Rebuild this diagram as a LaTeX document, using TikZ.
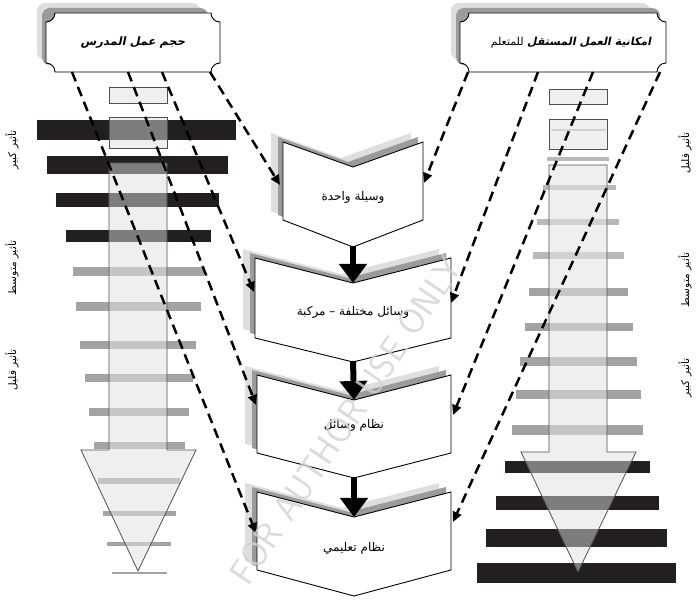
\documentclass[tikz,border=0pt]{standalone}
\usepackage{fontspec}
\usetikzlibrary{arrows.meta}
\TeXXeTstate=1
\newfontfamily\arabicfont[Script=Arabic]{DejaVu Sans}
\newfontfamily\arabicsl[Script=Arabic,FakeSlant=0.2]{DejaVu Sans}
\definecolor{barblack}{HTML}{231F20}
\definecolor{bargray}{HTML}{A3A3A6}
\definecolor{bargraylt}{HTML}{B9B9BB}
\definecolor{shaftfill}{HTML}{EEF0EF}
\definecolor{shaftline}{HTML}{505050}
\definecolor{shdark}{HTML}{9B9B9B}
\definecolor{shlight}{HTML}{DEDEDE}
\definecolor{wmark}{HTML}{D2D2D2}
\newcommand{\chevshape}[7]{%
  \path[#1] (#2,#4) -- ({(#2+#3)/2},#5) -- (#3,#4) -- (#3,#6) -- ({(#2+#3)/2},#7) -- (#2,#6) -- cycle;}
\newcommand{\chevbox}[6]{%
  \chevshape{fill=shlight,shift={(-12,-9)}}{#1}{#2}{#3}{#4}{#5}{#6}
  \chevshape{fill=shdark,shift={(-5,-5)}}{#1}{#2}{#3}{#4}{#5}{#6}
  \chevshape{fill=white,draw=black,line width=0.9}{#1}{#2}{#3}{#4}{#5}{#6}}
\newcommand{\concbox}[5]{%
  \path[#1] ({#2+9},#3) -- ({#4-9},#3)
    .. controls ({#4-9},{#3+5}) and ({#4-5},{#3+9}) .. (#4,{#3+9})
    -- (#4,{#5-9})
    .. controls ({#4-5},{#5-9}) and ({#4-9},{#5-5}) .. ({#4-9},#5)
    -- ({#2+9},#5)
    .. controls ({#2+9},{#5-5}) and ({#2+5},{#5-9}) .. (#2,{#5-9})
    -- (#2,{#3+9})
    .. controls ({#2+5},{#3+9}) and ({#2+9},{#3+5}) .. ({#2+9},#3) -- cycle;}
\newcommand{\band}[5]{\fill[#5] (#1,{#3-#4/2}) rectangle (#2,{#3+#4/2});}
\begin{document}
\begin{tikzpicture}[x=1pt,y=-1pt,
  dasharrow/.style={line width=2.5, dash pattern=on 10pt off 6pt, -{Triangle[length=10pt,width=9pt]}},
  flowarrow/.style={line width=6, -{Triangle[length=19pt,width=27pt]}},
  boxtext/.style={font=\arabicfont\fontsize{12}{14}\selectfont, inner sep=0},
  titletext/.style={font=\arabicsl\bfseries\fontsize{11.5}{13}\selectfont, inner sep=0},
  sidelabel/.style={font=\arabicfont\fontsize{10.5}{12}\selectfont, rotate=90, inner sep=0},
  shaftbase/.style={fill=shaftfill},
  shafttop/.style={fill=shaftfill, fill opacity=0.45, draw=shaftline, line width=0.8},
]
\useasboundingbox (0,0) rectangle (697,601);
% ---------- left column ----------
\fill[shaftbase] (109,87) rectangle (167,103);
\fill[shaftbase] (109,117) rectangle (167,148);
\fill[shaftbase] (109,163) -- (167,163) -- (167,450) -- (196,450) -- (138,571) -- (81,450) -- (109,450) -- cycle;
\band{37}{236}{130}{20}{barblack}
\band{47}{228}{165}{18}{barblack}
\band{56}{219}{200}{14}{barblack}
\band{66}{211}{236}{12}{barblack}
\band{73}{204}{272}{9}{bargray}
\band{76}{201}{307}{9}{bargray}
\band{80}{196}{345}{8}{bargray}
\band{85}{193}{378}{8}{bargray}
\band{89}{189}{412}{8}{bargray}
\band{94}{185}{446}{7}{bargray}
\band{98}{180}{481}{6}{bargray}
\band{103}{176}{514}{5}{bargray}
\band{107}{171}{544}{4}{bargray}
\band{112}{167}{573}{2}{bargray}
\draw[shafttop] (109,87) rectangle (167,103);
\draw[shafttop] (109,117) rectangle (167,148);
\draw[shafttop] (109,163) -- (167,163) -- (167,450) -- (196,450) -- (138,571) -- (81,450) -- (109,450) -- cycle;
% ---------- right column ----------
\fill[shaftbase] (549,89) rectangle (607,104);
\fill[shaftbase] (549,119) rectangle (607,149);
\fill[shaftbase] (549,165) -- (607,165) -- (607,452) -- (636,452) -- (578,572) -- (521,452) -- (549,452) -- cycle;
\band{551}{606}{130}{2}{bargraylt}
\band{547}{609}{159}{4}{bargraylt}
\band{543}{616}{188}{5}{bargraylt}
\band{537}{619}{222}{6}{bargraylt}
\band{533}{624}{256}{7}{bargraylt}
\band{529}{628}{292}{8}{bargray}
\band{525}{633}{327}{8}{bargray}
\band{520}{637}{362}{9}{bargray}
\band{516}{641}{395}{9}{bargray}
\band{512}{643}{430}{10}{bargray}
\band{505}{650}{467}{12}{barblack}
\band{496}{659}{503}{14}{barblack}
\band{486}{667}{538}{18}{barblack}
\band{477}{676}{573}{20}{barblack}
\draw[shafttop] (549,89) rectangle (607,104);
\draw[shafttop] (549,119) rectangle (607,149);
\draw[shafttop] (549,165) -- (607,165) -- (607,452) -- (636,452) -- (578,572) -- (521,452) -- (549,452) -- cycle;
% ---------- top boxes ----------
\fill[shlight, rounded corners=8] (37,3) rectangle (200,60);
\fill[shdark, rounded corners=8] (42,8) rectangle (208,65);
\concbox{fill=white,draw=black,line width=0.9}{46}{13}{220}{72}
\node[titletext] (tleft) at (133,43) {\beginR حجم عمل المدرس\endR};
\fill[shlight, rounded corners=8] (451,3) rectangle (650,60);
\fill[shdark, rounded corners=8] (456,8) rectangle (660,65);
\concbox{fill=white,draw=black,line width=0.9}{460}{13}{666}{72}
\node[inner sep=0, font=\arabicfont\fontsize{11}{13}\selectfont] (tright) at (571,43) {\beginR{\arabicsl\bfseries امكانية العمل المستقل} للمتعلم\endR};
% ---------- central boxes ----------
\chevbox{283}{423}{142}{167}{220}{247}
\chevbox{255}{451}{258}{283}{338}{362}
\chevbox{257}{451}{375}{400}{453}{478}
\chevbox{257}{451}{492}{517}{570}{596}
\node[boxtext] (b1) at (353,197) {\beginR وسيلة واحدة\endR};
\node[boxtext] (b2) at (353,312) {\beginR وسائل مختلفة – مركبة\endR};
\node[boxtext] (b3) at (354,425) {\beginR نظام وسائل\endR};
\node[boxtext] (b4) at (354,548) {\beginR نظام تعليمي\endR};
\coordinate (b1tip) at (353,246);
\coordinate (b2top) at (353,283);
\coordinate (b2tip) at (353,361);
\coordinate (b3top) at (354,400);
\coordinate (b3tip) at (354,477);
\coordinate (b4top) at (354,517);
\draw[flowarrow] (b1tip) -- (b2top);
\draw[flowarrow] (b2tip) -- (b3top);
\draw[flowarrow] (b3tip) -- (b4top);
% ---------- dashed connectors ----------
\coordinate (L1) at (210,72);
\coordinate (L2) at (162,72);
\coordinate (L3) at (128,72);
\coordinate (L4) at (72,72);
\coordinate (R1) at (468,72);
\coordinate (R2) at (538,72);
\coordinate (R3) at (593,72);
\coordinate (R4) at (660,72);
\coordinate (b1l) at (280,185);
\coordinate (b2l) at (254,292);
\coordinate (b3l) at (256,405);
\coordinate (b4l) at (256,533);
\coordinate (b1r) at (424,183);
\coordinate (b2r) at (451,303);
\coordinate (b3r) at (453,415);
\coordinate (b4r) at (453,522);
\draw[dasharrow] (L1) -- (b1l);
\draw[dasharrow] (L2) -- (b2l);
\draw[dasharrow] (L3) -- (b3l);
\draw[dasharrow] (L4) -- (b4l);
\draw[dasharrow] (R1) -- (b1r);
\draw[dasharrow] (R2) -- (b2r);
\draw[dasharrow] (R3) -- (b3r);
\draw[dasharrow] (R4) -- (b4r);
% ---------- side labels ----------
\node[sidelabel] (ll1) at (12,150) {\beginR تأثير كبير\endR};
\node[sidelabel] (ll2) at (12,268) {\beginR تأثير متوسط\endR};
\node[sidelabel] (ll3) at (12,370) {\beginR تأثير قليل\endR};
\node[sidelabel] (rl1) at (685,153) {\beginR تأثير قليل\endR};
\node[sidelabel] (rl2) at (685,280) {\beginR تأثير متوسط\endR};
\node[sidelabel] (rl3) at (685,378) {\beginR تأثير كبير\endR};
% ---------- watermark ----------
\node[font=\sffamily\fontsize{36}{36}\selectfont, text=wmark, text opacity=0.8, rotate=56, inner sep=0] (wm) at (346,420) {FOR AUTHOR USE ONLY};
\end{tikzpicture}
\end{document}
